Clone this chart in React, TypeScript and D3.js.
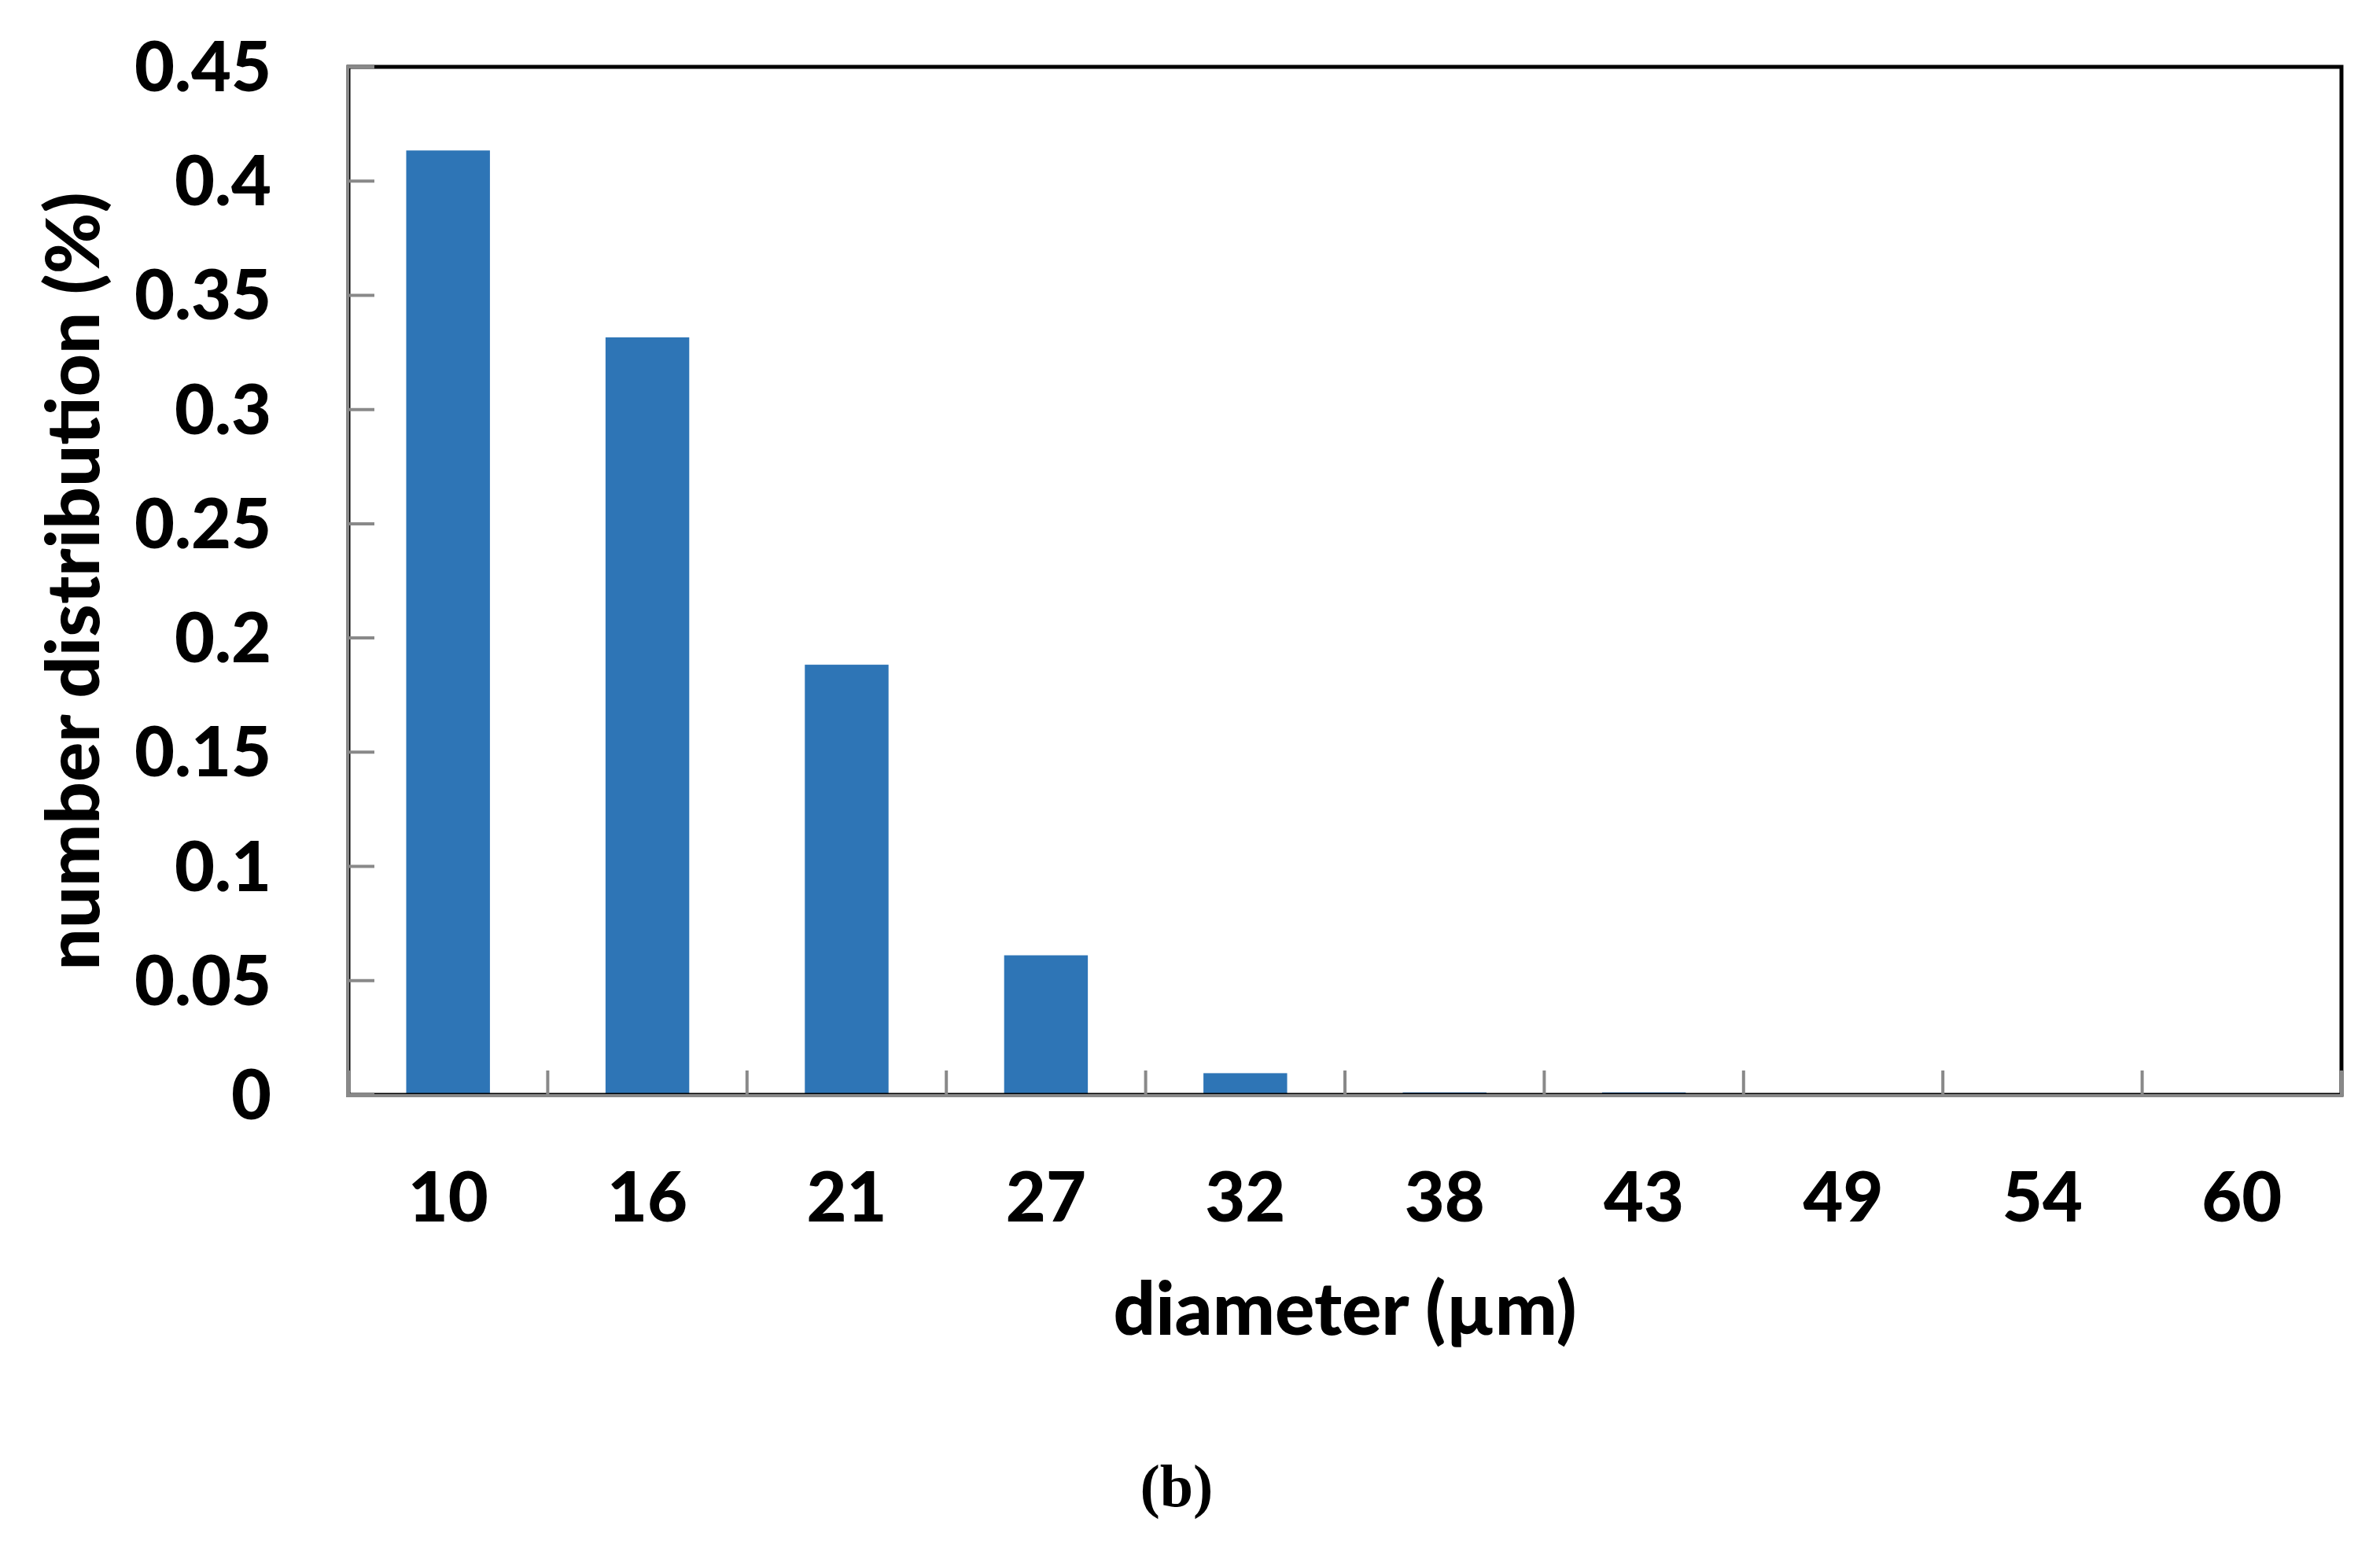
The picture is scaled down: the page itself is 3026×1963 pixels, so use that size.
import React from "react";
import * as d3 from "d3";

const categories = ["10", "16", "21", "27", "32", "38", "43", "49", "54", "60"];
const values = [0.4134, 0.3316, 0.1883, 0.0611, 0.0095, 0.0011, 0.0011, 0, 0, 0];
const yTicks = [0, 0.05, 0.1, 0.15, 0.2, 0.25, 0.3, 0.35, 0.4, 0.45];
const yTickLabels = ["0", "0.05", "0.1", "0.15", "0.2", "0.25", "0.3", "0.35", "0.4", "0.45"];

const W = 3026;
const H = 1963;
const left = 443;
const right = 2977;
const top = 85;
const bottom = 1392;
const FONT = "Lato, Calibri, 'Open Sans', sans-serif";
const BLUE = "#2E75B6";
const GRAY = "#898989";

export default function App() {
  const x = d3.scaleBand<string>().domain(categories).range([left, right]).paddingInner(0.58).paddingOuter(0.29);
  const xCat = d3.scaleBand<string>().domain(categories).range([left, right]);
  const y = d3.scaleLinear().domain([0, 0.45]).range([bottom, top]);
  const boundaries = d3.range(categories.length + 1).map((i) => left + i * xCat.step());

  return (
    <svg width={W} height={H} style={{ display: "block", position: "absolute", left: 0, top: 0 }}>
      <rect x={0} y={0} width={W} height={H} fill="#fff" />
      {/* bars */}
      {categories.map((c, i) => {
        const v = values[i];
        if (v <= 0) return null;
        const yy = y(v);
        return <rect key={c} x={x(c)} y={yy} width={x.bandwidth()} height={bottom - yy} fill={BLUE} />;
      })}
      {/* frame */}
      <rect x={left} y={top} width={right - left} height={bottom - top} fill="none" stroke="#000" strokeWidth={5} />
      {/* gray axes */}
      <line x1={left - 1} x2={left - 1} y1={top - 2} y2={bottom + 3} stroke={GRAY} strokeWidth={4} />
      <line x1={left - 3} x2={right + 2} y1={bottom + 1} y2={bottom + 1} stroke={GRAY} strokeWidth={4} />
      {/* y ticks */}
      {yTicks.map((t) => (
        <line key={"yt" + t} x1={left} x2={left + 33} y1={y(t)} y2={y(t)} stroke={GRAY} strokeWidth={4} />
      ))}
      {/* x ticks */}
      {boundaries.map((b, i) => (
        <line key={"xt" + i} x1={b} x2={b} y1={bottom} y2={bottom - 31} stroke={GRAY} strokeWidth={4} />
      ))}
      {/* y tick labels */}
      {yTicks.map((t, i) => (
        <text key={"yl" + t} x={345} y={y(t) + 31} textAnchor="end" fontFamily={FONT} fontWeight={900} fontSize={88} fill="#000">
          {yTickLabels[i]}
        </text>
      ))}
      {/* x tick labels */}
      {categories.map((c) => (
        <text key={"xl" + c} x={xCat(c)! + xCat.bandwidth() / 2} y={1553} textAnchor="middle" fontFamily={FONT} fontWeight={900} fontSize={88} fill="#000">
          {c}
        </text>
      ))}
      {/* axis titles */}
      <text x={(left + right) / 2} y={1697} textAnchor="middle" fontFamily={FONT} fontWeight={900} fontSize={94} fill="#000">
        diameter (µm)
      </text>
      <text transform={`translate(126, 739) rotate(-90)`} textAnchor="middle" fontFamily={FONT} fontWeight={900} fontSize={94} fill="#000">
        number distribution (%)
      </text>
      {/* caption */}
      <text x={1496} y={1915} textAnchor="middle" fontFamily="'Liberation Serif', 'DejaVu Serif', serif" fontWeight={700} fontSize={76} fill="#000">
        (b)
      </text>
    </svg>
  );
}
